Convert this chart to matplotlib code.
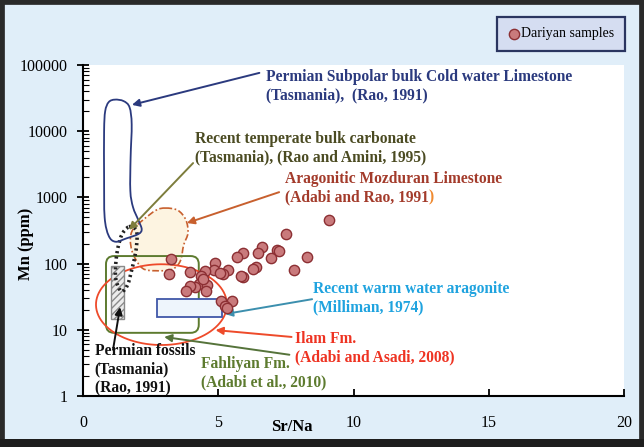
import numpy as np
import matplotlib
matplotlib.use("Agg")
import matplotlib.pyplot as plt
from matplotlib.path import Path
from matplotlib.patches import PathPatch, Rectangle
from matplotlib.ticker import LogLocator, NullFormatter

# Dariyan samples (Sr/Na, Mn ppm)
sr_na = [9.1, 7.52, 8.27, 7.8, 7.19, 7.24, 6.62, 6.47, 6.94, 6.38, 6.3, 5.93,
         5.7, 5.93, 5.83, 5.37, 5.19, 4.87, 4.85, 5.06, 4.51, 4.36, 3.96, 3.25,
         3.19, 4.29, 4.14, 3.96, 3.81, 4.57, 4.55, 4.45, 5.1, 5.5, 5.25, 5.31]
mn_ppm = [450, 280, 124, 80, 160, 157, 180, 143, 120, 88, 82, 143,
          126, 62, 64, 80, 70, 103, 80, 73, 78, 65, 75, 116,
          69, 49, 45, 46, 39, 48, 38, 58, 27.5, 27.5, 23, 21]

# field outlines (Sr/Na, Mn ppm)
subpolar_x = [1.18, 1.5, 1.72, 1.8, 1.76, 1.75, 1.85, 2.05, 2.17, 2.05, 1.6, 1.2,
              0.95, 0.8, 0.78, 0.78, 0.82, 0.95]
subpolar_mn = [30000, 28500, 23000, 12600, 4000, 1260, 710, 450, 330, 280, 240, 214,
               263, 500, 2000, 10000, 20000, 27500]

temperate_x = [1.7, 1.95, 2.0, 1.95, 1.8, 1.65, 1.45, 1.3, 1.2, 1.22, 1.3, 1.45]
temperate_mn = [360, 330, 250, 150, 80, 48, 38, 45, 65, 110, 180, 280]

mozduran_x = [3.05, 3.5, 3.8, 3.88, 3.72, 3.6, 3.3, 2.7, 2.2, 1.85, 1.75, 1.85, 2.2, 2.7]
mozduran_mn = [690, 640, 460, 290, 190, 110, 82, 78, 85, 140, 230, 330, 450, 640]

fahliyan_box = [0.85, 4.28, 9.0, 130]      # x0, x1, mn0, mn1
warm_box = [2.72, 5.15, 15.5, 29]
fossil_box = [1.02, 1.5, 14.7, 93]
ilam_center = [2.9, 24]                   # Sr/Na, Mn
ilam_half = [2.42, 0.61]                  # half width (Sr/Na), half height (decades)

W, H = 644, 447
SERIF = "Liberation Serif"


def fpos(px, py):
    return px / W, 1 - py / H


def smooth_closed(xs, mns):
    # closed Catmull-Rom outline drawn in (x, log Mn) space
    pts = np.column_stack([xs, np.log10(mns)])
    n = len(pts)
    verts = [pts[0]]
    codes = [Path.MOVETO]
    for i in range(n):
        p0, p1, p2, p3 = pts[i - 1], pts[i], pts[(i + 1) % n], pts[(i + 2) % n]
        verts += [p1 + (p2 - p0) / 6, p2 - (p3 - p1) / 6, p2]
        codes += [Path.CURVE4] * 3
    verts = np.array(verts)
    verts[:, 1] = 10 ** verts[:, 1]
    return Path(verts, codes)


def rounded_box(x0, x1, m0, m1, rx=0.3):
    y0, y1 = np.log10(m0), np.log10(m1)
    ry = rx * 27.05 / 66.2
    v = [(x0 + rx, y0), (x1 - rx, y0), (x1, y0), (x1, y0 + ry), (x1, y1 - ry),
         (x1, y1), (x1 - rx, y1), (x0 + rx, y1), (x0, y1), (x0, y1 - ry),
         (x0, y0 + ry), (x0, y0), (x0 + rx, y0), (x0 + rx, y0)]
    c = [Path.MOVETO, Path.LINETO, Path.CURVE3, Path.CURVE3, Path.LINETO,
         Path.CURVE3, Path.CURVE3, Path.LINETO, Path.CURVE3, Path.CURVE3,
         Path.LINETO, Path.CURVE3, Path.CURVE3, Path.CLOSEPOLY]
    v = np.array(v, dtype=float)
    v[:, 1] = 10 ** v[:, 1]
    return Path(v, c)


fig = plt.figure(figsize=(W / 100, H / 100), dpi=100, facecolor="#e0eef9")
ax = fig.add_axes([83 / W, 1 - 396 / H, 541 / W, 331 / H])
ax.set_yscale("log")
ax.set_xlim(0, 20)
ax.set_ylim(1, 100000)

# fields
ax.add_patch(PathPatch(smooth_closed(mozduran_x, mozduran_mn), facecolor="#fdf4e1",
                       edgecolor="#c8602e", lw=1.2, linestyle=(0, (4, 1.5, 1, 1.5)), zorder=1))
ax.add_patch(PathPatch(rounded_box(*fahliyan_box), facecolor="none",
                       edgecolor="#5d7b2f", lw=1.4, zorder=2))
t = np.linspace(0, 2 * np.pi, 200)
ax.plot(ilam_center[0] + ilam_half[0] * np.cos(t),
        10 ** (np.log10(ilam_center[1]) + ilam_half[1] * np.sin(t)),
        color="#ee4a2a", lw=1.3, zorder=2)
ax.add_patch(Rectangle((warm_box[0], warm_box[2]), warm_box[1] - warm_box[0],
                       warm_box[3] - warm_box[2], facecolor="#eef5fc",
                       edgecolor="#4057a8", lw=1.3, zorder=2))
ax.add_patch(Rectangle((fossil_box[0], fossil_box[2]), fossil_box[1] - fossil_box[0],
                       fossil_box[3] - fossil_box[2], facecolor="#ececec",
                       edgecolor="#8a8a8a", hatch="/////", lw=1.0, zorder=2))
ax.add_patch(PathPatch(smooth_closed(temperate_x, temperate_mn), facecolor="none",
                       edgecolor="#222222", lw=2.6, linestyle=(0, (0.6, 0.9)), zorder=3))
ax.add_patch(PathPatch(smooth_closed(subpolar_x, subpolar_mn), facecolor="none",
                       edgecolor="#2b3a7e", lw=1.3, zorder=3))

ax.scatter(sr_na, mn_ppm, s=55, facecolor="#c97a7c", edgecolor="#8c2f33",
           linewidth=1.0, zorder=5, label="Dariyan samples")

# arrows: tail, head, colour
arrows = [
    ((6.52, 76000), (1.81, 25000), "#2b3a7e"),
    ((4.07, 3300), (1.7, 323), "#7d7d3c"),
    ((7.25, 1200), (3.84, 410), "#c8602e"),
    ((8.47, 29), (5.25, 17.3), "#3c8fae"),
    ((7.71, 7.8), (4.9, 9.9), "#ee4a2a"),
    ((7.63, 4.2), (3.0, 7.8), "#55733a"),
    ((1.11, 5), (1.37, 22), "#111111"),
]
for tail, head, col in arrows:
    ax.annotate("", xy=head, xytext=tail,
                arrowprops=dict(arrowstyle="-|>", color=col, lw=1.4,
                                mutation_scale=11, shrinkA=0, shrinkB=0), zorder=4)

# labels
FS = 11.2
tk = dict(fontfamily=SERIF, fontweight="bold", ha="left", va="center",
          fontsize=FS, linespacing=1.2)
fig.text(*fpos(266, 86.5), "Permian Subpolar bulk Cold water Limestone\n(Tasmania),  (Rao, 1991)",
         color="#2b3a7e", **tk)
fig.text(*fpos(195, 148), "Recent temperate bulk carbonate\n(Tasmania), (Rao and Amini, 1995)",
         color="#4b4b22", **tk)
fig.text(*fpos(285, 179), "Aragonitic Mozduran Limestone", color="#a33b2b", **tk)
moz2 = fig.text(*fpos(285, 197), "(Adabi and Rao, 1991", color="#a33b2b", **tk)
ax.annotate(")", xy=(1, 0.5), xycoords=moz2, ha="left", va="center",
            fontfamily=SERIF, fontweight="bold", fontsize=FS, color="#f08a30")
fig.text(*fpos(313, 298), "Recent warm water aragonite\n(Milliman, 1974)",
         color="#1fa3df", **tk)
fig.text(*fpos(295, 348.5), "Ilam Fm.\n(Adabi and Asadi, 2008)", color="#ee3322", **tk)
fig.text(*fpos(201, 373), "Fahliyan Fm.\n(Adabi et al., 2010)", color="#5d7b2f", **tk)
fig.text(*fpos(94.5, 369.5), "Permian fossils\n(Tasmania)\n(Rao, 1991)", color="#111111", **tk)

# axes styling
for side in ["top", "right"]:
    ax.spines[side].set_visible(False)
for side in ["left", "bottom"]:
    ax.spines[side].set_linewidth(1.5)
ax.yaxis.set_minor_locator(LogLocator(base=10, subs=np.arange(2, 10), numticks=50))
ax.yaxis.set_minor_formatter(NullFormatter())
ax.set_yticks([1, 10, 100, 1000, 10000, 100000])
ax.set_yticklabels(["1", "10", "100", "1000", "10000", "100000"])
ax.set_xticks([0, 5, 10, 15, 20])
ax.tick_params(axis="y", which="major", direction="inout", length=8, width=1.3, pad=7)
ax.tick_params(axis="y", which="minor", direction="in", length=4, width=0.8)
ax.tick_params(axis="x", direction="in", length=5, width=1.3, pad=14)
for lab in ax.get_xticklabels() + ax.get_yticklabels():
    lab.set_fontfamily(SERIF)
    lab.set_fontsize(11.5)
ax.set_xlabel("Sr/Na", fontfamily=SERIF, fontweight="bold", fontsize=12, va="center")
ax.xaxis.set_label_coords(0.386, -0.094)
ax.set_ylabel("Mn (ppm)", fontfamily=SERIF, fontweight="bold", fontsize=12, va="center")
ax.yaxis.set_label_coords(-0.105, 0.459)

leg = ax.legend(loc="upper right", bbox_to_anchor=fpos(625, 17), bbox_transform=fig.transFigure,
                borderaxespad=0, fancybox=False, handletextpad=0.1, handlelength=0.9,
                borderpad=0.75, prop=dict(family=SERIF, size=10))
leg.get_frame().set_facecolor("#d5ddf1")
leg.get_frame().set_edgecolor("#2a3560")
leg.get_frame().set_linewidth(1.6)
leg.get_frame().set_alpha(1)

# outer frame of the figure
fig.patches.append(Rectangle((0, 0), 1, 1, transform=fig.transFigure, fill=False,
                             edgecolor="#2a2a2a", lw=7, zorder=10))
fig.patches.append(Rectangle((0, 0), 1, 8 / H, transform=fig.transFigure,
                             facecolor="#1e1e1e", edgecolor="none", zorder=10))

fig.savefig("out.png", dpi=100, facecolor=fig.get_facecolor())
